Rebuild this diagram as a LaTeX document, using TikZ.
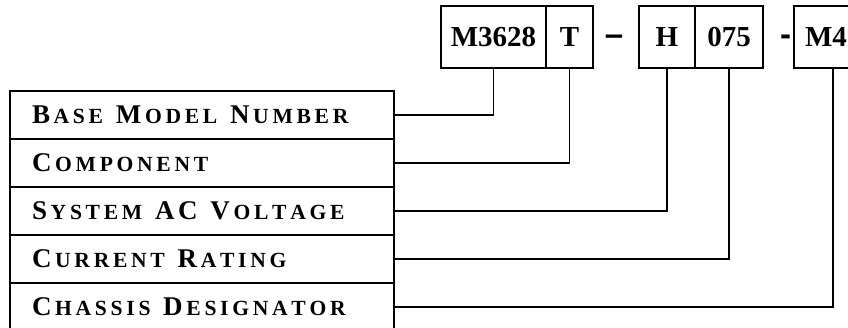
\documentclass[tikz,border=0pt]{standalone}
\usepackage{fontspec}
\setmainfont{Liberation Serif}
\newfontfamily\sepfont{Liberation Sans}
\usetikzlibrary{positioning}
\tikzstyle{codebox} = [
    rectangle,
    minimum height=62pt,
    inner sep=0pt,
    outer sep=0pt,
    line width=1.6pt,
    draw=black,
    font=\fontsize{29}{29}\selectfont\bfseries
]
\tikzstyle{sepmark} = [
    inner sep=0pt,
    anchor=base,
    font=\sepfont\fontsize{33}{33}\selectfont\bfseries
]
\tikzstyle{row} = [
    rectangle,
    minimum height=48pt,
    text width=340pt,
    inner xsep=22pt,
    inner ysep=0pt,
    outer sep=0pt,
    align=left,
    line width=1.6pt,
    draw=black,
    font={\fontsize{27}{27}\selectfont\bfseries\spaceskip 10.5pt\relax}
]
\tikzstyle{link} = [line width=1.6pt]
% spaced small caps: big letters, then small ones
\makeatletter
\newcommand{\fsc}[2]{\@tfor\lsc:=#1\do{\lsc\kern3.7pt}%
{\fontsize{21.6}{21.6}\selectfont\@tfor\lsc:=#2\do{\lsc\kern3.7pt}}}
\makeatother

\begin{document}
\begin{tikzpicture}[x=1pt, y=-1pt]
\useasboundingbox (0,0) rectangle (848,328);
\node (m3628) [codebox, minimum width=105pt] at (493.5,37) {M3628};
\node (t) [codebox, minimum width=47pt, right=0pt of m3628] {T};
\node (dash1) [sepmark] at (614,45.5) {–};
\node (h) [codebox, minimum width=56pt] at (667,37) {H};
\node (n075) [codebox, minimum width=68pt, right=0pt of h] {075};
\node (dash2) [sepmark] at (785.5,45.5) {-};
\node (m4) [codebox, minimum width=78pt, text width=56pt, align=left] at (833,37) {M4};

\node (base) [row, anchor=north west] at (10,91)
{\fsc{B}{ASE} \fsc{M}{ODEL} \fsc{N}{UMBER}};
\node (comp) [row, below=0pt of base]
{\fsc{C}{OMPONENT}};
\node (volt) [row, below=0pt of comp]
{\fsc{S}{YSTEM} \fsc{AC}{} \fsc{V}{OLTAGE}};
\node (curr) [row, below=0pt of volt]
{\fsc{C}{URRENT} \fsc{R}{ATING}};
\node (chassis) [row, below=0pt of curr]
{\fsc{C}{HASSIS} \fsc{D}{ESIGNATOR}};

\draw [link] (base.east) -| (m3628.south);
\draw [link] (comp.east) -| (t.south);
\draw [link] (volt.east) -| (h.south);
\draw [link] (curr.east) -| (n075.south);
\draw [link] (chassis.east) -| (m4.south);

\end{tikzpicture}
\end{document}
